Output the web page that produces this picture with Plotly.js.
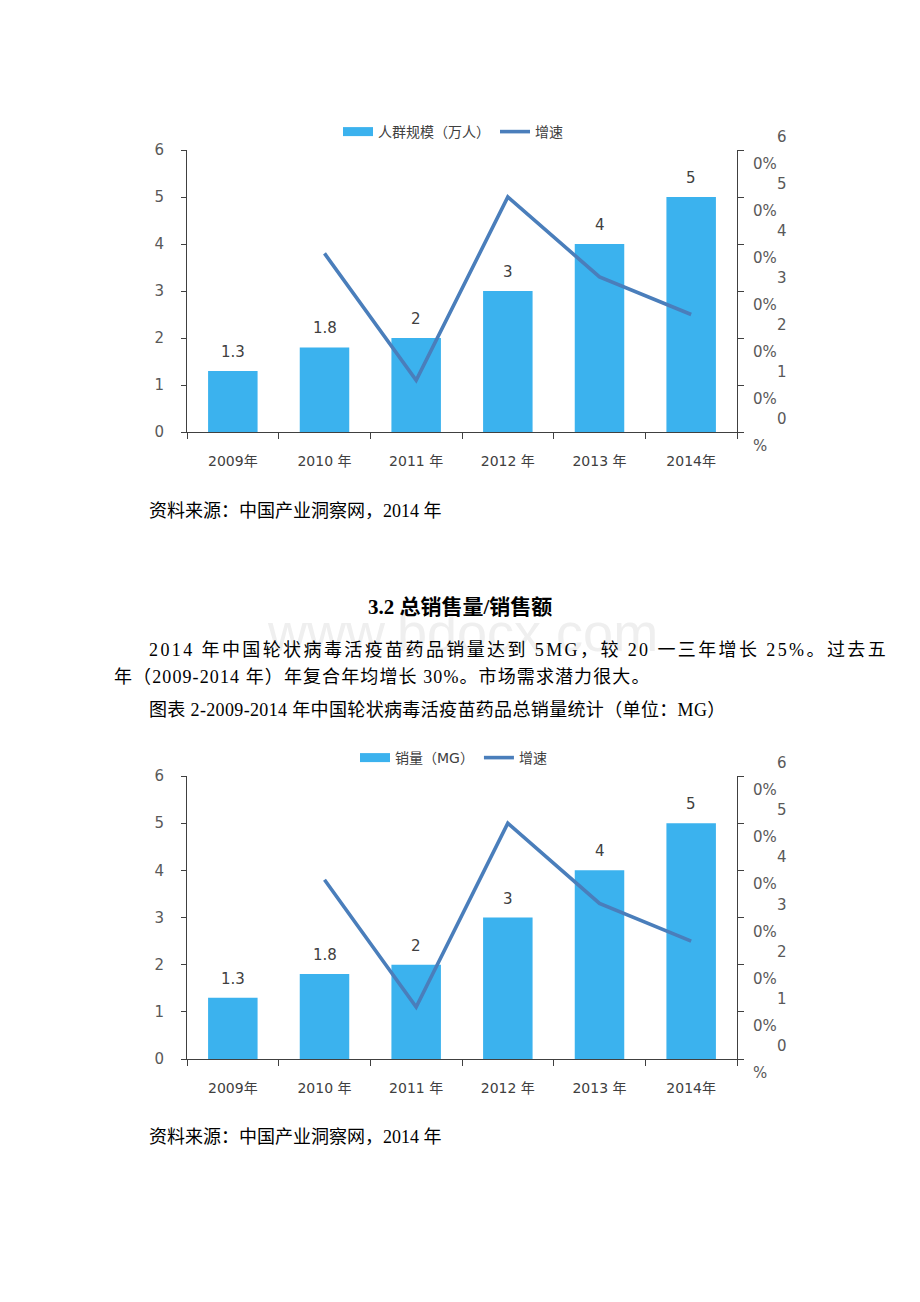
<!DOCTYPE html>
<html>
<head>
<meta charset="utf-8">
<script src="https://cdn.plot.ly/plotly-3.0.1.min.js"></script>
<style>
html,body{margin:0;padding:0;background:#fff;}
#chart{width:920px;height:1302px;}
</style>
</head>
<body>
<div id="chart"></div>
<script>
// ---- data ----
const years = ['2009年', '2010 年', '2011 年', '2012 年', '2013 年', '2014年'];
const people = [1.3, 1.8, 2, 3, 4, 5];              // 人群规模（万人）
const peopleGrowth = [null, 0.38, 0.11, 0.50, 0.33, 0.25];
const sales = [1.3, 1.8, 2, 3, 4, 5];               // 销量（MG）
const salesGrowth = [null, 0.38, 0.11, 0.50, 0.33, 0.25];
const rightTicks = [0, 0.1, 0.2, 0.3, 0.4, 0.5, 0.6];
const seriesNames1 = ['人群规模（万人）', '增速'];
const seriesNames2 = ['销量（MG）', '增速'];

// ---- styling ----
const W = 920, H = 1302;
const BAR = '#3BB2EE', LINE = '#4A7EBB', AX = '#404040', TXT = '#404040', TICK = '#595959';
const chartFont = 'DejaVu Sans, Noto Sans CJK SC, sans-serif';
const docFont = 'Liberation Serif, Noto Sans CJK SC, serif';
const px = (x) => x / W;
const py = (y) => 1 - y / H;

const xDomain = [px(187), px(737)];
const y1Domain = [py(432), py(150)];
const y2Domain = [py(1059), py(776)];

function xAxis(anchor) {
  return {
    domain: xDomain, anchor: anchor, type: 'category',
    tickson: 'boundaries', ticks: 'outside', ticklen: 6, tickcolor: AX,
    showline: true, linecolor: AX, linewidth: 1,
    showgrid: false, zeroline: false,
    tickfont: {family: chartFont, size: 14, color: TXT},
    ticklabelstandoff: 16, fixedrange: true
  };
}
function yLeft(domain, anchor) {
  return {
    domain: domain, anchor: anchor, range: [0, 6], dtick: 1,
    ticks: 'outside', ticklen: 5, tickcolor: AX,
    showline: true, linecolor: AX, linewidth: 1,
    showgrid: false, zeroline: false,
    tickfont: {family: chartFont, size: 15, color: TICK},
    ticklabelstandoff: 14
  };
}
function yRight(over, anchor) {
  return {
    overlaying: over, anchor: anchor, side: 'right', range: [0, 0.6],
    tickvals: rightTicks, showticklabels: false,
    ticks: 'outside', ticklen: 6, tickcolor: AX,
    showline: true, linecolor: AX, linewidth: 1,
    showgrid: false, zeroline: false
  };
}

function chartTraces(vals, growth, names, xa, ya, ya2, leg) {
  return [
    {type: 'bar', x: years, y: vals, xaxis: xa, yaxis: ya,
     marker: {color: BAR}, showlegend: false, hoverinfo: 'skip'},
    // legend proxy for the bars (wide swatch like the original)
    {type: 'scatter', mode: 'lines', x: [years[0]], y: [null], xaxis: xa, yaxis: ya,
     line: {color: BAR, width: 9}, name: names[0], legend: leg, showlegend: true},
    {type: 'scatter', mode: 'lines', x: years, y: growth, xaxis: xa, yaxis: ya2,
     line: {color: LINE, width: 3.6}, name: names[1], legend: leg, connectgaps: false}
  ];
}

const data = [].concat(
  chartTraces(people, peopleGrowth, seriesNames1, 'x', 'y', 'y3', 'legend'),
  chartTraces(sales, salesGrowth, seriesNames2, 'x2', 'y2', 'y4', 'legend2')
);

const annotations = [];
function barLabels(vals, xr, yr) {
  vals.forEach((v, i) => annotations.push({
    xref: xr, yref: yr, x: years[i], y: v, yshift: 19, text: String(v),
    showarrow: false, font: {family: chartFont, size: 15, color: TXT}, yanchor: 'middle'
  }));
}
function rightLabels(yr) {
  rightTicks.forEach(v => {
    const s = Math.round(v * 100) + '%';
    annotations.push({xref: 'paper', yref: yr, x: px(775), y: v, yshift: 13, xanchor: 'left', yanchor: 'middle',
      text: s.charAt(0), showarrow: false, font: {family: chartFont, size: 15, color: TICK}});
    annotations.push({xref: 'paper', yref: yr, x: px(751), y: v, yshift: -14, xanchor: 'left', yanchor: 'middle',
      text: s.slice(1), showarrow: false, font: {family: chartFont, size: 15, color: TICK}});
  });
}
barLabels(people, 'x', 'y');
barLabels(sales, 'x2', 'y2');
rightLabels('y3');
rightLabels('y4');

function docText(text, x, y, opts) {
  annotations.push(Object.assign({
    xref: 'paper', yref: 'paper', x: px(x), y: py(y), xanchor: 'left', yanchor: 'middle',
    text: text, showarrow: false, font: {family: docFont, size: 18, color: '#000'}
  }, opts || {}));
}
docText('www.bdocx.com', 462, 632, {xanchor: 'center', font: {family: 'Liberation Sans, Arial, sans-serif', size: 54, color: '#efefef'}});
docText('资料来源：中国产业洞察网，2014 年', 147, 511);
docText('<b>3.2 总销售量/销售额</b>', 460, 607, {xanchor: 'center', font: {family: docFont, size: 21, color: '#000'}});
docText('<span style="letter-spacing:2.4px">2014 年中国轮状病毒活疫苗药品销量达到 5MG，较 20 一三年增长 25%。过去五</span>', 147, 650);
docText('<span style="letter-spacing:1.1px">年（2009-2014 年）年复合年均增长 30%。市场需求潜力很大。</span>', 112, 677);
docText('<span style="letter-spacing:0.35px">图表 2-2009-2014 年中国轮状病毒活疫苗药品总销量统计（单位：MG）</span>', 147, 710);
docText('资料来源：中国产业洞察网，2014 年', 147, 1137);

const legendBase = {
  orientation: 'h', xanchor: 'left', yanchor: 'middle', bgcolor: 'rgba(0,0,0,0)',
  font: {family: chartFont, size: 14, color: TXT}, itemclick: false, itemdoubleclick: false
};

const layout = {
  width: W, height: H,
  margin: {l: 0, r: 0, t: 0, b: 0},
  paper_bgcolor: '#fff', plot_bgcolor: 'rgba(0,0,0,0)',
  bargap: 0.46,
  xaxis: xAxis('y'), yaxis: yLeft(y1Domain, 'x'), yaxis3: yRight('y', 'x'),
  xaxis2: xAxis('y2'), yaxis2: yLeft(y2Domain, 'x2'), yaxis4: yRight('y2', 'x2'),
  legend: Object.assign({}, legendBase, {x: px(338), y: py(132)}),
  legend2: Object.assign({}, legendBase, {x: px(355), y: py(758)}),
  annotations: annotations
};

Plotly.newPlot('chart', data, layout, {displayModeBar: false, staticPlot: true});
</script>
</body>
</html>
